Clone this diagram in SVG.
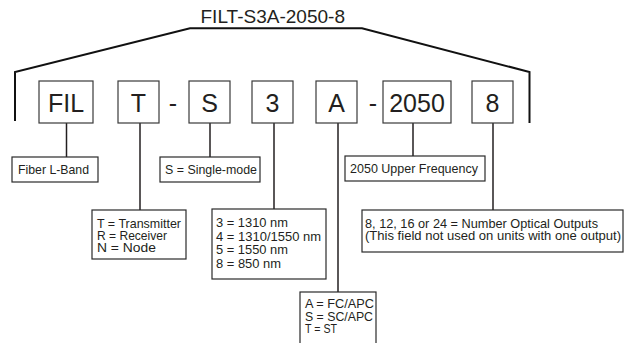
<svg xmlns="http://www.w3.org/2000/svg" width="639" height="343" viewBox="0 0 639 343">
<style>
.bg{fill:#ffffff}
.code{fill:#ffffff;stroke:#3a3a3a;stroke-width:1.2}
.lbl{fill:#ffffff;stroke:#2a2a2a;stroke-width:1.2}
.big{font-family:"Liberation Sans",Arial,sans-serif;font-size:25px;fill:#231f20;text-anchor:middle}
.title{font-family:"Liberation Sans",Arial,sans-serif;font-size:18.5px;fill:#231f20}
.t{font-family:"Liberation Sans",Arial,sans-serif;font-size:13.5px;fill:#231f20}
.wire{fill:none;stroke:#231f20;stroke-width:1.5}
.brk{fill:none;stroke:#111111;stroke-width:2}
</style>
<rect class="bg" x="0" y="0" width="639" height="343"/>
<g id="title">
<text class="title" x="200.5" y="23.3" textLength="144.5" lengthAdjust="spacingAndGlyphs">FILT-S3A-2050-8</text>
</g>
<g id="connectors">
<polyline class="brk" points="15,121 15,72 190,28.3 362,28.3 529.5,72 529.5,123"/>
<line class="wire" x1="66.5" y1="123" x2="66.5" y2="157"/>
<line class="wire" x1="140" y1="123" x2="140" y2="210"/>
<line class="wire" x1="210" y1="123" x2="210" y2="157"/>
<line class="wire" x1="274" y1="123" x2="274" y2="209"/>
<line class="wire" x1="338" y1="123" x2="338" y2="292"/>
<line class="wire" x1="413" y1="123" x2="413" y2="156"/>
<line class="wire" x1="493" y1="123" x2="493" y2="210"/>
</g>
<g id="node-FIL"><rect class="code" x="39" y="81" width="54" height="42"/><text class="big" x="66" y="112">FIL</text></g>
<g id="node-T"><rect class="code" x="118" y="81" width="41" height="42"/><text class="big" x="138.5" y="112">T</text></g>
<g id="dash1"><text class="big" x="173" y="112">-</text></g>
<g id="node-S"><rect class="code" x="189" y="81" width="41" height="42"/><text class="big" x="209.5" y="112">S</text></g>
<g id="node-3"><rect class="code" x="252" y="81" width="41" height="42"/><text class="big" x="272.5" y="112">3</text></g>
<g id="node-A"><rect class="code" x="316" y="81" width="41" height="42"/><text class="big" x="336.5" y="112">A</text></g>
<g id="dash2"><text class="big" x="373" y="112">-</text></g>
<g id="node-2050"><rect class="code" x="383" y="81" width="68" height="42"/><text class="big" x="417" y="112">2050</text></g>
<g id="node-8"><rect class="code" x="472" y="81" width="41" height="42"/><text class="big" x="492.5" y="112">8</text></g>

<g id="label-fiber"><rect class="lbl" x="12" y="157" width="86" height="25"/><text class="t" x="18" y="173.5" textLength="71" lengthAdjust="spacingAndGlyphs">Fiber L-Band</text></g>
<g id="label-mode"><rect class="lbl" x="160" y="157" width="100" height="25"/><text class="t" x="165" y="173.5" textLength="92" lengthAdjust="spacingAndGlyphs">S = Single-mode</text></g>
<g id="label-freq"><rect class="lbl" x="345" y="156" width="140" height="25"/><text class="t" x="350" y="172.5" textLength="128" lengthAdjust="spacingAndGlyphs">2050 Upper Frequency</text></g>
<g id="label-type"><rect class="lbl" x="92" y="210" width="94" height="49"/>
<text class="t" x="97" y="228" textLength="84" lengthAdjust="spacingAndGlyphs">T = Transmitter</text>
<text class="t" x="97" y="240" textLength="70" lengthAdjust="spacingAndGlyphs">R = Receiver</text>
<text class="t" x="97" y="252" textLength="59" lengthAdjust="spacingAndGlyphs">N = Node</text></g>
<g id="label-wave"><rect class="lbl" x="212" y="209" width="114" height="70"/>
<text class="t" x="216" y="227" textLength="72" lengthAdjust="spacingAndGlyphs">3 = 1310 nm</text>
<text class="t" x="216" y="240.5" textLength="105" lengthAdjust="spacingAndGlyphs">4 = 1310/1550 nm</text>
<text class="t" x="216" y="254" textLength="72" lengthAdjust="spacingAndGlyphs">5 = 1550 nm</text>
<text class="t" x="216" y="267.5" textLength="65" lengthAdjust="spacingAndGlyphs">8 = 850 nm</text></g>
<g id="label-conn"><rect class="lbl" x="300" y="292" width="76" height="56"/>
<text class="t" x="305" y="308" textLength="69" lengthAdjust="spacingAndGlyphs">A = FC/APC</text>
<text class="t" x="305" y="320.5" textLength="68" lengthAdjust="spacingAndGlyphs">S = SC/APC</text>
<text class="t" x="305" y="333" textLength="32" lengthAdjust="spacingAndGlyphs">T = ST</text></g>
<g id="label-outputs"><rect class="lbl" x="362" y="210" width="261" height="42"/>
<text class="t" x="365" y="227.5" textLength="233" lengthAdjust="spacingAndGlyphs">8, 12, 16 or 24 = Number Optical Outputs</text>
<text class="t" x="365" y="240" textLength="256" lengthAdjust="spacingAndGlyphs">(This field not used on units with one output)</text></g>
</svg>
